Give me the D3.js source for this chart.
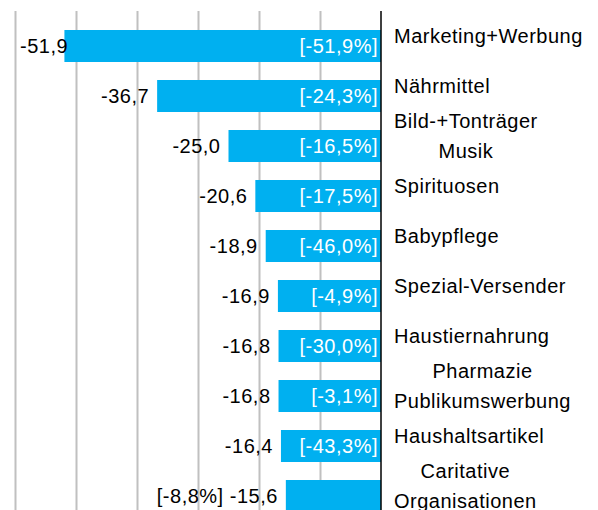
<!DOCTYPE html>
<html>
<head>
<meta charset="utf-8">
<script src="https://cdn.jsdelivr.net/npm/d3@7"></script>
<style>
  body { margin: 0; background: #fff; }
  text { font-family: "Liberation Sans", Arial, sans-serif; font-size: 20px; letter-spacing: 0.5px; }
</style>
</head>
<body>
<div id="viz"></div>
<script>
// categories (line breaks as in the original labels)
var categories = ["Marketing+Werbung", "Nährmittel", "Bild-+Tonträger\nMusik", "Spirituosen",
    "Babypflege", "Spezial-Versender", "Haustiernahrung", "Pharmazie\nPublikumswerbung",
    "Haushaltsartikel", "Caritative\nOrganisationen"];
// change in Mio. (bar length)
var values = [-51.9, -36.7, -25.0, -20.6, -18.9, -16.9, -16.8, -16.8, -16.4, -15.6];
// change in percent (bracket labels)
var percents = [-51.9, -24.3, -16.5, -17.5, -46.0, -4.9, -30.0, -3.1, -43.3, -8.8];
var gridTicks = [-60, -50, -40, -30, -20, -10];

var width = 598, height = 510;
var fmt = function(v) { return v.toFixed(1).replace(".", ","); };

var svg = d3.select("#viz").append("svg")
    .attr("width", width)
    .attr("height", height);

var x = d3.scaleLinear()
    .domain([-60, 0])
    .range([15, 381]);

// plot area runs past the bottom edge (cut off in the original)
var y = d3.scaleBand()
    .domain(categories)
    .range([21, 521])
    .paddingInner(0.36)
    .paddingOuter(0.18);

var plotTop = 11;

// gridlines
svg.append("g")
    .attr("class", "grid")
    .attr("transform", "translate(0," + plotTop + ")")
    .call(d3.axisBottom(x)
        .tickValues(gridTicks)
        .tickSize(height - plotTop)
        .tickFormat(""))
    .call(g => g.select(".domain").remove())
    .selectAll("line")
        .attr("stroke", "#c0c0c0")
        .attr("stroke-width", 2);

// bars
svg.append("g").selectAll("rect")
    .data(values).enter()
    .append("rect")
        .attr("x", function(d) { return x(d); })
        .attr("y", function(d, i) { return y(categories[i]); })
        .attr("width", function(d) { return x(0) - x(d); })
        .attr("height", y.bandwidth())
        .attr("fill", "#00b0f0");

// zero axis
svg.append("line")
    .attr("x1", x(0)).attr("x2", x(0))
    .attr("y1", plotTop).attr("y2", height)
    .attr("stroke", "#000")
    .attr("stroke-width", 1.5);

var last = values.length - 1;

// percent labels inside the bars (last one goes outside, with the value)
svg.append("g").selectAll("text")
    .data(percents.slice(0, last)).enter()
    .append("text")
        .attr("x", x(0) - 3)
        .attr("y", function(d, i) { return y(categories[i]) + y.bandwidth() / 2 + 7; })
        .attr("text-anchor", "end")
        .attr("fill", "#fff")
        .text(function(d) { return "[" + fmt(d) + "%]"; });

// value labels left of the bars
svg.append("g").selectAll("text")
    .data(values).enter()
    .append("text")
        .attr("y", function(d, i) { return y(categories[i]) + y.bandwidth() / 2 + 7; })
        .attr("fill", "#000")
        .text(function(d, i) {
            return (i === last ? "[" + fmt(percents[i]) + "%] " : "") + fmt(d);
        })
        .each(function(d) {
            var w = this.getComputedTextLength();
            var end = x(d) - 8;
            if (end - w < 20) end = 20 + w;
            d3.select(this).attr("x", end).attr("text-anchor", "end");
        });

// category labels on the right, multi-line ones centred
var cat = svg.append("g").selectAll("g")
    .data(categories).enter()
    .append("g");

cat.each(function(c) {
    var lines = c.split("\n");
    var n = lines.length;
    var cy = y(c) + y.bandwidth() / 2 - 3.5;
    var t = d3.select(this).selectAll("text")
        .data(lines).enter()
        .append("text")
            .attr("x", 394)
            .attr("y", function(d, j) { return cy + (j - (n - 1) / 2) * 30; })
            .attr("fill", "#000")
            .text(function(d) { return d; });
    if (n > 1) {
        var maxW = d3.max(t.nodes(), function(node) { return node.getComputedTextLength(); });
        t.attr("x", 394 + maxW / 2).attr("text-anchor", "middle");
    }
});
</script>
</body>
</html>
